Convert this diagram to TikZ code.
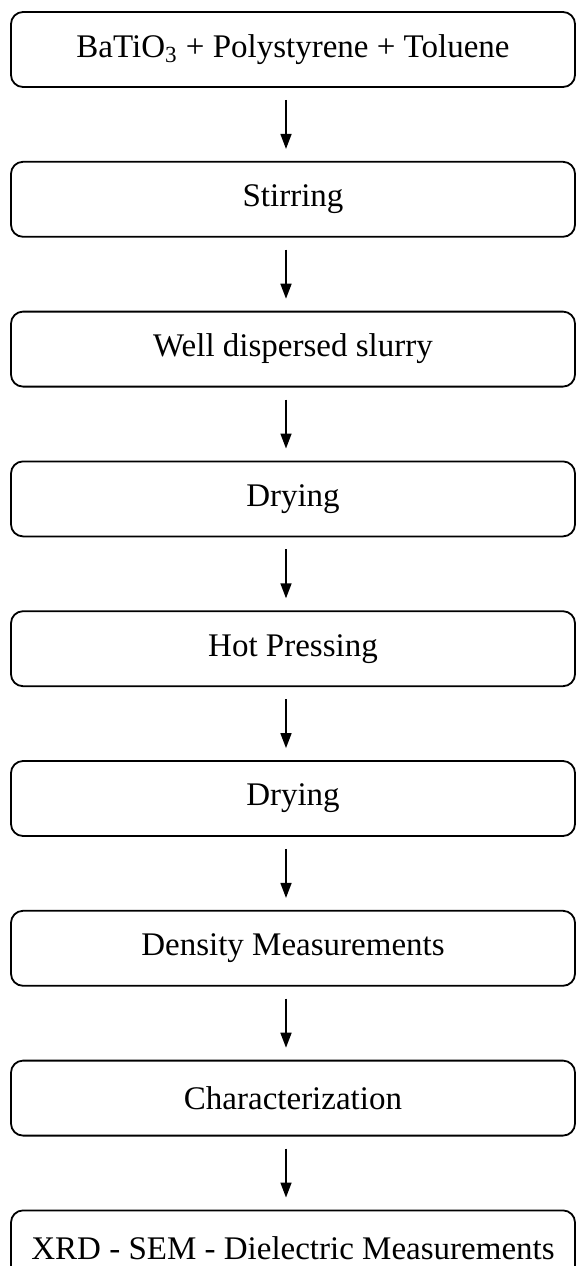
\documentclass[tikz,border=0pt]{standalone}
\usepackage{fontspec}
\setmainfont{Liberation Serif}
\usetikzlibrary{arrows.meta, positioning}

\begin{document}
\begin{tikzpicture}[x=0.5pt, y=-0.5pt, >={Triangle[width=5.5pt,length=7.5pt]},
    node distance=36.5pt,
    stepbox/.style={draw, line width=0.9pt, rounded corners=6pt,
        minimum width=282pt, minimum height=37.5pt, inner sep=0pt,
        font=\fontsize{16.5}{19}\selectfont}]
        % Page frame
        \useasboundingbox (0,0) rectangle (576,1266);
        \clip (0,0) rectangle (576,1266);

        % Process steps
        \node[stepbox] (mix) at (293,49.5) {BaTiO\textsubscript{3} + Polystyrene + Toluene};
        \node[stepbox, below=of mix] (stir) {Stirring};
        \node[stepbox, below=of stir] (slurry) {Well dispersed slurry};
        \node[stepbox, below=of slurry] (dry1) {Drying};
        \node[stepbox, below=of dry1] (press) {Hot Pressing};
        \node[stepbox, below=of press] (dry2) {Drying};
        \node[stepbox, below=of dry2] (density) {Density Measurements};
        \node[stepbox, below=of density] (charac) {Characterization};
        \node[stepbox, below=of charac] (xrd) {XRD - SEM - Dielectric Measurements};

        % Arrows between steps
        \foreach \a/\b in {mix/stir, stir/slurry, slurry/dry1, dry1/press,
                           press/dry2, dry2/density, density/charac, charac/xrd}
            \draw[->, line width=0.8pt, shorten <=6pt, shorten >=6pt]
                ([xshift=-3.5pt]\a.south) -- ([xshift=-3.5pt]\b.north);
    \end{tikzpicture}
\end{document}
